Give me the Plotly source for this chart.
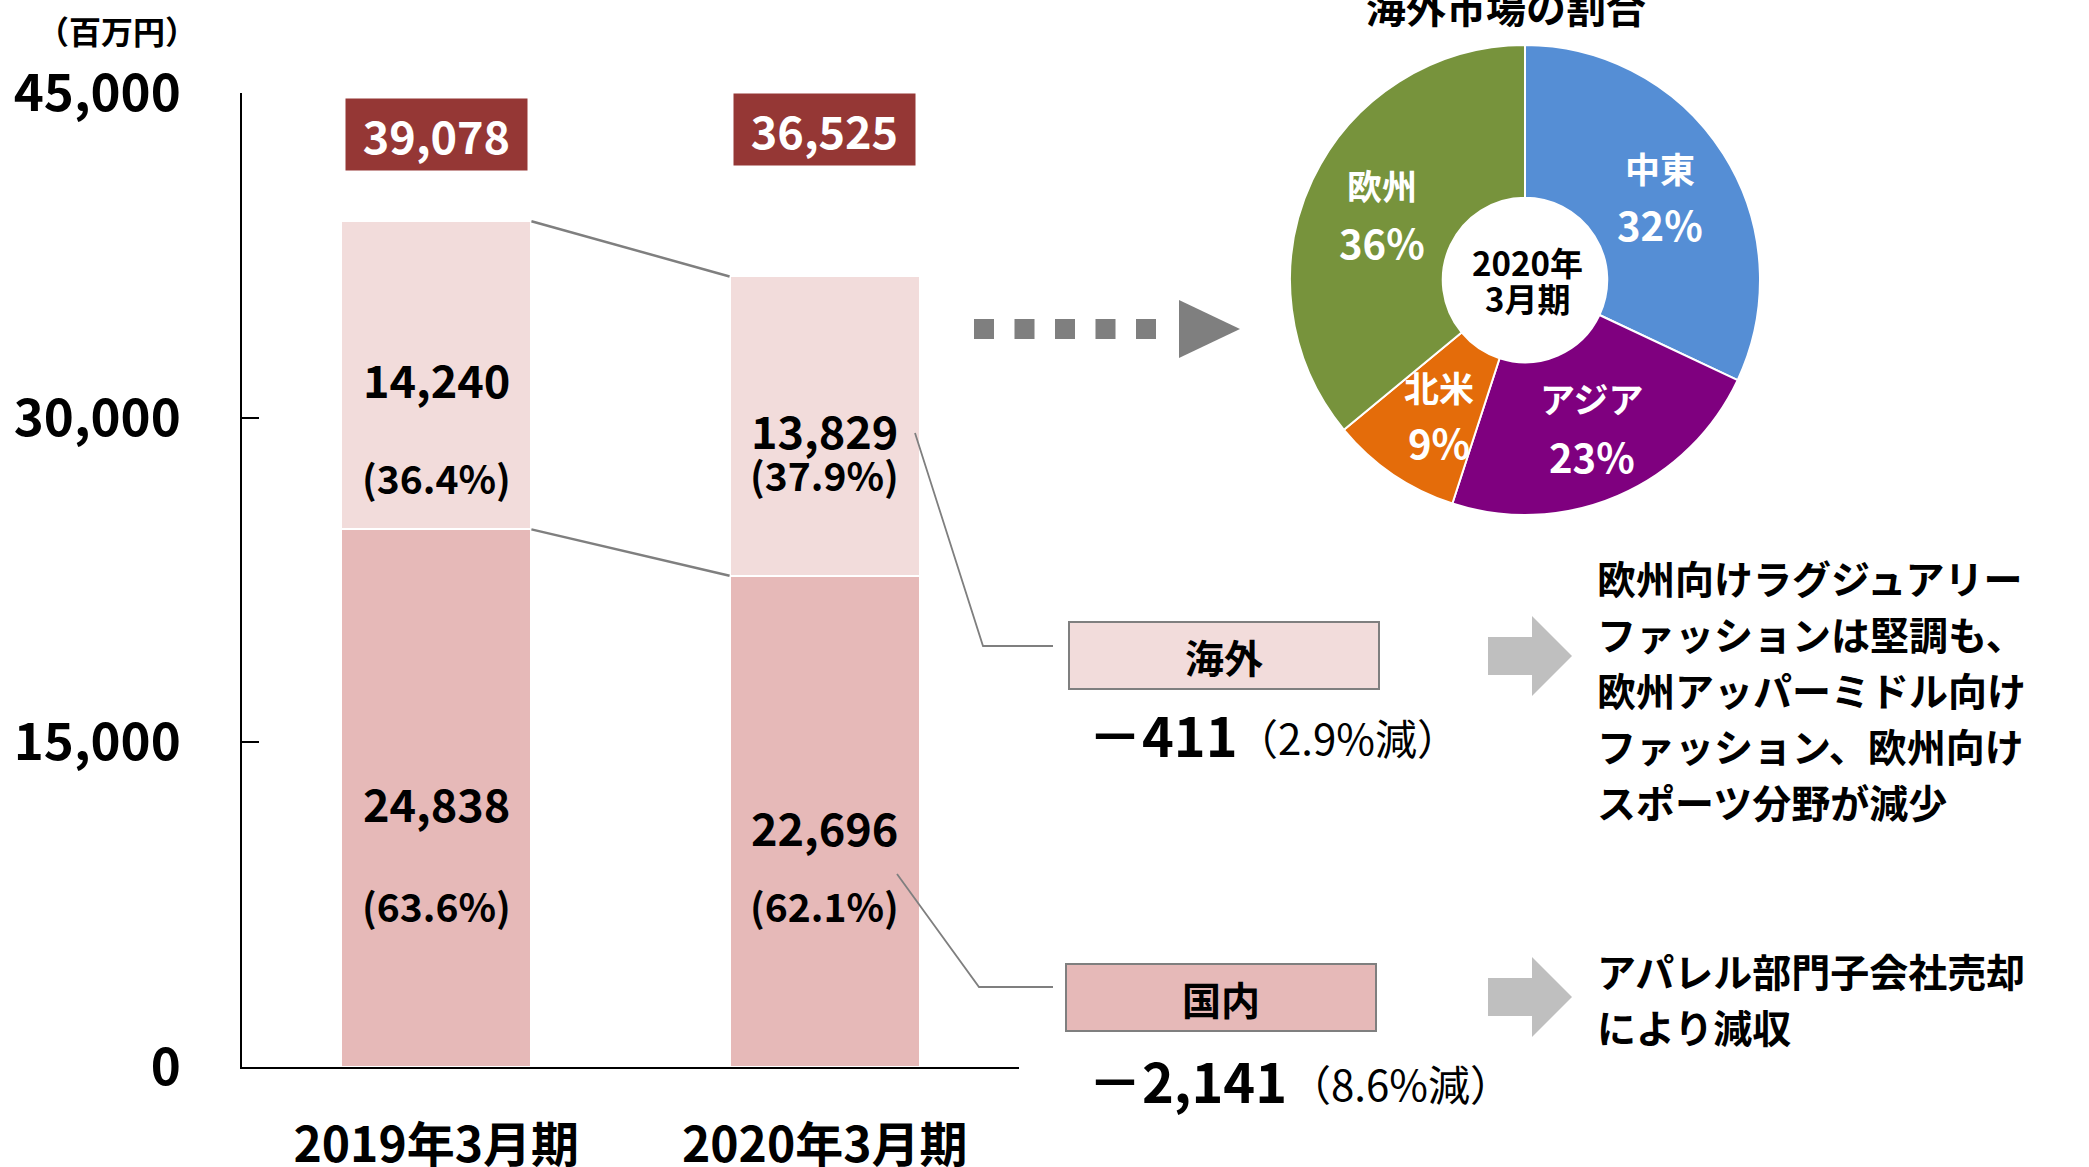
import plotly.graph_objects as go

W, H = 2089, 1167
FONT = "Noto Sans CJK JP"

# ---------------- data ----------------
categories = ["2019年3月期", "2020年3月期"]
domestic = [24838, 22696]
overseas = [14240, 13829]
totals = [39078, 36525]
domestic_pct = ["(63.6%)", "(62.1%)"]
overseas_pct = ["(36.4%)", "(37.9%)"]
ytick_vals = [0, 15000, 30000, 45000]
ytick_text = ["0", "15,000", "30,000", "45,000"]

regions = ["中東", "アジア", "北米", "欧州"]
region_share = [32, 23, 9, 36]
region_colors = ["#558ED5", "#7F007F", "#E46C0A", "#77933C"]

segment_names = ["海外", "国内"]
changes = ["－411", "－2,141"]
change_pct = ["（2.9%減）", "（8.6%減）"]
comments = [
    ["欧州向けラグジュアリー", "ファッションは堅調も、", "欧州アッパーミドル向け",
     "ファッション、欧州向け", "スポーツ分野が減少"],
    ["アパレル部門子会社売却", "により減収"],
]

# ---------------- helpers ----------------
def px(x):
    return x / W

def py(y):
    return 1 - y / H

def font(size, color="black", bold=True):
    return dict(family=FONT, size=size, color=color, weight="bold" if bold else "normal")

def note(x, y, text, size, color="black", bold=True, xanchor="center", **kw):
    d = dict(x=px(x), y=py(y), xref="paper", yref="paper", text=text, showarrow=False,
             xanchor=xanchor, yanchor="middle", font=font(size, color, bold))
    d.update(kw)
    return d

fig = go.Figure()

C_DOM = "#E6B9B8"
C_OVS = "#F2DCDB"
BAR_W = 0.49

fig.add_trace(go.Bar(x=[0, 1], y=domestic, width=BAR_W, name="国内",
                     marker=dict(color=C_DOM, line=dict(color="white", width=2)),
                     hoverinfo="y"))
fig.add_trace(go.Bar(x=[0, 1], y=overseas, width=BAR_W, name="海外",
                     marker=dict(color=C_OVS, line=dict(color="white", width=2)),
                     hoverinfo="y"))

fig.add_trace(go.Pie(values=region_share, labels=regions, hole=0.35, sort=False,
                     direction="clockwise", rotation=0,
                     marker=dict(colors=region_colors, line=dict(color="white", width=2)),
                     textinfo="none", showlegend=False,
                     domain=dict(x=[px(1290), px(1760)], y=[py(515), py(45)])))

annotations = []
shapes = []

# unit label
annotations.append(note(117, 30, "（百万円）", 32))

# total boxes
total_y = [43080, 43310]
for i, t in enumerate(totals):
    annotations.append(dict(x=i, y=total_y[i], xref="x", yref="y",
                            xanchor="center", yanchor="middle",
                            text=f"{t:,}", showarrow=False,
                            font=font(45, "white"),
                            bgcolor="#953735", width=179, height=69))

# bar labels
ovs_val_y = [31832, 29476]
ovs_pct_y = [27258, 27397]
dom_val_y = [12243, 11134]
dom_pct_y = [7485, 7485]
for i in range(2):
    for yy, txt, sz in [(ovs_val_y[i], f"{overseas[i]:,}", 45),
                        (ovs_pct_y[i], overseas_pct[i], 39),
                        (dom_val_y[i], f"{domestic[i]:,}", 45),
                        (dom_pct_y[i], domestic_pct[i], 39)]:
        annotations.append(dict(x=i, y=yy, xref="x", yref="y", text=txt, showarrow=False,
                                xanchor="center", yanchor="middle", font=font(sz)))

# connector lines between bars
half = BAR_W / 2
shapes.append(dict(type="line", xref="x", yref="y", x0=0 + half, y0=totals[0],
                   x1=1 - half, y1=totals[1], line=dict(color="#7F7F7F", width=2.5)))
shapes.append(dict(type="line", xref="x", yref="y", x0=0 + half, y0=domestic[0],
                   x1=1 - half, y1=domestic[1], line=dict(color="#7F7F7F", width=2.5)))

# leader lines to segment boxes
def polyline(pts, color="#7F7F7F", width=1.8):
    d = "M " + " L ".join(f"{px(x)},{py(y)}" for x, y in pts)
    return dict(type="path", xref="paper", yref="paper", path=d,
                line=dict(color=color, width=width))

shapes.append(polyline([(915, 433), (983, 646), (1053, 646)]))
shapes.append(polyline([(897, 874), (979, 987), (1053, 987)]))

# segment boxes
box_centers = [(1224, 655), (1221, 997)]
box_colors = [C_OVS, C_DOM]
for (cx, cy), name, col in zip(box_centers, segment_names, box_colors):
    annotations.append(note(cx, cy, name, 39, bgcolor=col, bordercolor="#7F7F7F",
                            borderwidth=2, width=306, height=63))

# change values
change_y = [733, 1079]
pct_x = [1234, 1287]
for i in range(2):
    annotations.append(note(1086, change_y[i], changes[i], 54, xanchor="left"))
    annotations.append(note(pct_x[i], change_y[i] + 3, change_pct[i], 42, bold=False,
                            xanchor="left"))

# gray block arrows
def block_arrow(cy):
    pts = [(1488, cy - 19), (1532, cy - 19), (1532, cy - 40), (1572, cy),
           (1532, cy + 40), (1532, cy + 19), (1488, cy + 19)]
    d = "M " + " L ".join(f"{px(x)},{py(y)}" for x, y in pts) + " Z"
    return dict(type="path", xref="paper", yref="paper", path=d,
                fillcolor="#BFBFBF", line=dict(width=0))

shapes.append(block_arrow(656))
shapes.append(block_arrow(997))

# comment text
comment_y0 = [577, 970]
line_gap = 56
for blk, y0 in zip(comments, comment_y0):
    for j, line in enumerate(blk):
        annotations.append(note(1595, y0 + j * line_gap, line, 39, xanchor="left"))

# dotted arrow toward pie
shapes.append(dict(type="line", xref="paper", yref="paper", x0=px(974), y0=py(329),
                   x1=px(1157), y1=py(329),
                   line=dict(color="#7F7F7F", width=20, dash="20px,20.5px")))
tri = [(1179, 300), (1240, 329), (1179, 358)]
shapes.append(dict(type="path", xref="paper", yref="paper",
                   path="M " + " L ".join(f"{px(x)},{py(y)}" for x, y in tri) + " Z",
                   fillcolor="#7F7F7F", line=dict(width=0)))

# pie title (partially cut at top in the reference)
annotations.append(note(1506, 6, "海外市場の割合", 40))

# pie slice labels
pie_label_pos = [(1660, 167, 224), (1592, 397, 456), (1439, 386, 442), (1382, 184, 242)]
for (lx, y1, y2), r, s in zip(pie_label_pos, regions, region_share):
    annotations.append(note(lx, y1, r, 35, "white"))
    annotations.append(note(lx, y2, f"{s}%", 40, "white"))

# pie centre label
annotations.append(note(1527, 262, "2020年", 33))
annotations.append(note(1527, 298, "3月期", 33))

fig.update_layout(
    width=W, height=H, barmode="stack", showlegend=False,
    paper_bgcolor="white", plot_bgcolor="white",
    margin=dict(l=0, r=0, t=0, b=0, autoexpand=False),
    bargap=0,
    annotations=annotations, shapes=shapes,
    xaxis=dict(domain=[px(242), px(1019)], range=[-0.5, 1.5], automargin=False,
               tickvals=[0, 1], ticktext=categories, showgrid=False, zeroline=False,
               showline=True, linecolor="black", linewidth=2, ticks="",
               ticklabelstandoff=35, tickfont=font(48)),
    yaxis=dict(domain=[py(1067), py(93)], range=[0, 45000], automargin=False,
               tickvals=ytick_vals, ticktext=ytick_text, showgrid=False, zeroline=False,
               showline=True, linecolor="black", linewidth=2,
               ticks="inside", ticklen=17, tickwidth=2, tickcolor="black",
               ticklabelstandoff=49, tickfont=font(51)),
    font=dict(family=FONT),
)

fig.write_html("out.html", config={"displayModeBar": False},
               post_script="document.body.style.margin='0';document.body.style.overflow='hidden';")
